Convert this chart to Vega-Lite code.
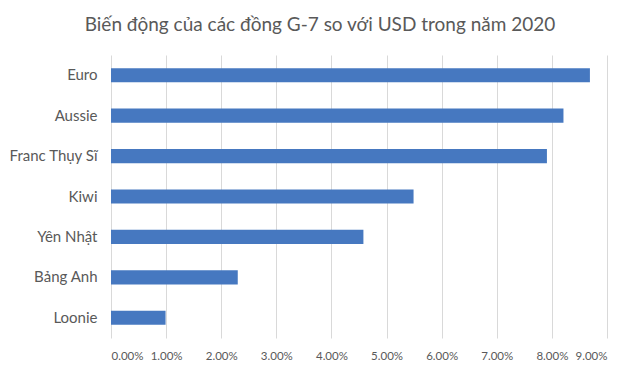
{
  "$schema": "https://vega.github.io/schema/vega-lite/v6.json",
  "autosize": "none",
  "width": 496,
  "height": 283,
  "padding": {"left": 111, "top": 55, "right": 33, "bottom": 35},
  "background": "white",
  "title": {
    "text": "Biến động của các đồng G-7 so với USD trong năm 2020",
    "font": "Lato",
    "fontSize": 19,
    "fontWeight": "normal",
    "color": "#595959",
    "anchor": "middle",
    "dx": -39,
    "baseline": "alphabetic",
    "offset": 5
  },
  "data": {
    "values": [
      {"currency": "Euro", "change": 0.0869},
      {"currency": "Aussie", "change": 0.0821},
      {"currency": "Franc Thụy Sĩ", "change": 0.0791},
      {"currency": "Kiwi", "change": 0.0549},
      {"currency": "Yên Nhật", "change": 0.0458},
      {"currency": "Bảng Anh", "change": 0.0230},
      {"currency": "Loonie", "change": 0.0099}
    ]
  },
  "mark": {"type": "bar", "color": "#4678C0"},
  "encoding": {
    "y": {
      "field": "currency",
      "type": "nominal",
      "sort": null,
      "scale": {"paddingInner": 0.65, "paddingOuter": 0.325},
      "axis": {
        "title": null,
        "domain": false,
        "ticks": false,
        "grid": false,
        "labelFont": "Lato",
        "labelFontSize": 15,
        "labelColor": "#595959",
        "labelPadding": 14
      }
    },
    "x": {
      "field": "change",
      "type": "quantitative",
      "scale": {"domain": [0, 0.09], "nice": false},
      "axis": {
        "title": null,
        "format": ".2%",
        "values": [0, 0.01, 0.02, 0.03, 0.04, 0.05, 0.06, 0.07, 0.08, 0.09],
        "domain": false,
        "ticks": false,
        "grid": true,
        "gridColor": "#D9D9D9",
        "gridWidth": 1,
        "labelFont": "Lato",
        "labelFontSize": 11.5,
        "labelColor": "#595959",
        "labelPadding": 12
      }
    }
  },
  "config": {
    "view": {"stroke": null}
  }
}
